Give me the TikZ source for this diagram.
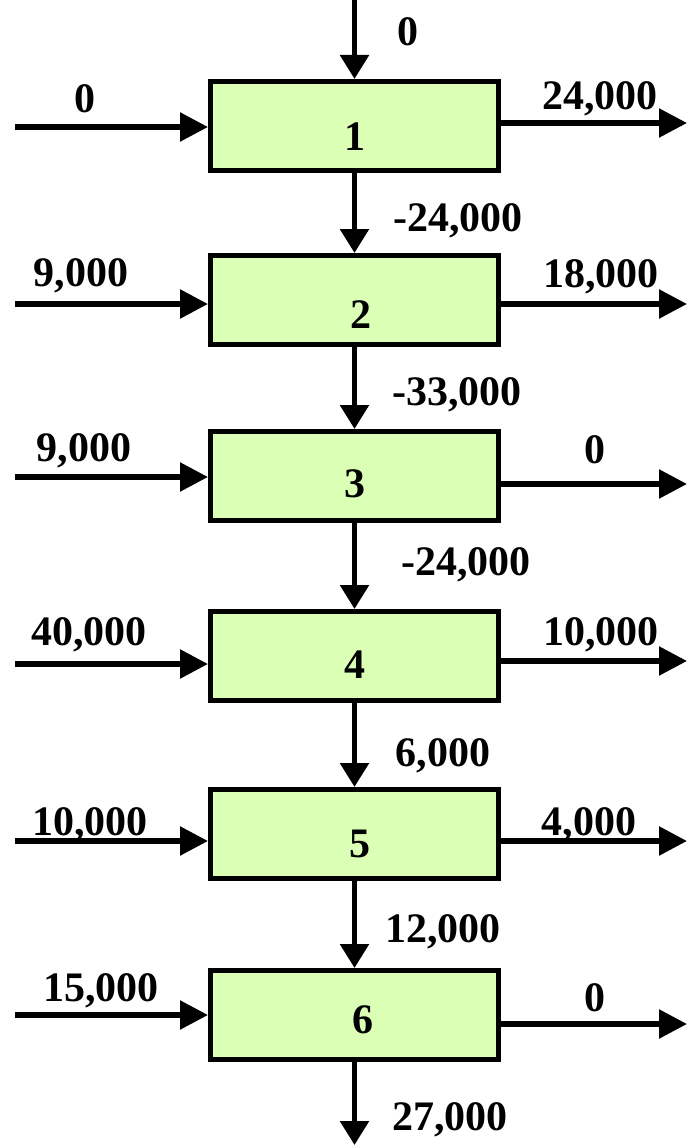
\documentclass[tikz,border=0pt]{standalone}
\usepackage{fontspec}
\setmainfont{Liberation Serif}
\usetikzlibrary{arrows.meta}
\definecolor{boxgreen}{RGB}{218,255,181}
\tikzset{
  blk/.style={draw=black, fill=boxgreen, line width=5pt, minimum width=288pt, minimum height=89pt, inner sep=0pt},
  hflow/.style={line width=5.5pt, -{Triangle[length=28pt,width=28pt]}},
  vflow/.style={line width=5.5pt, -{Triangle[length=24pt,width=28pt]}},
  lbl/.style={font=\fontsize{42}{48}\selectfont\bfseries, inner sep=0pt, anchor=base}
}
\begin{document}
\begin{tikzpicture}[x=1pt,y=-1pt]
\useasboundingbox (0,0) rectangle (687,1145);
% boxes
\node[blk] (b1) at (354.5,126) {};
\node[blk] (b2) at (354.5,300) {};
\node[blk] (b3) at (354.5,476) {};
\node[blk] (b4) at (354.5,656) {};
\node[blk] (b5) at (354.5,834) {};
\node[blk] (b6) at (354.5,1015) {};
% box numbers
\node[lbl] (n1) at (355,150) {1};
\node[lbl] (n2) at (361,328) {2};
\node[lbl] (n3) at (355,497) {3};
\node[lbl] (n4) at (355,678) {4};
\node[lbl] (n5) at (360,857) {5};
\node[lbl] (n6) at (363,1033) {6};
% free ends
\coordinate (top) at (354.5,0);
\coordinate (bot) at (354.5,1145);
\foreach \i/\yl/\yr in {1/127/123,2/304/304,3/477/484,4/664/661,5/841/841,6/1015/1024}{
  \coordinate (l\i) at (15,\yl);
  \coordinate (r\i) at (687,\yr);
}
% connectors
\draw[vflow] (top) -- (b1.north);
\draw[vflow] (b1.south) -- (b2.north);
\draw[vflow] (b2.south) -- (b3.north);
\draw[vflow] (b3.south) -- (b4.north);
\draw[vflow] (b4.south) -- (b5.north);
\draw[vflow] (b5.south) -- (b6.north);
\draw[vflow] (b6.south) -- (bot);
\foreach \i in {1,...,6}{
  \draw[hflow] (l\i) -- (b\i.west |- l\i);
  \draw[hflow] (b\i.east |- r\i) -- (r\i);
}
% labels
\node[lbl] (t0) at (408,46) {0};
\node[lbl] (in1) at (85,113) {0};
\node[lbl] (out1) at (600,110) {24,000};
\node[lbl] (v12) at (458,231) {-24,000};
\node[lbl] (in2) at (81,286) {9,000};
\node[lbl] (out2) at (601,287) {18,000};
\node[lbl] (v23) at (457,405) {-33,000};
\node[lbl] (in3) at (84,461) {9,000};
\node[lbl] (out3) at (595,463) {0};
\node[lbl] (v34) at (466,575) {-24,000};
\node[lbl] (in4) at (89,645) {40,000};
\node[lbl] (out4) at (601,645) {10,000};
\node[lbl] (v45) at (443,766) {6,000};
\node[lbl] (in5) at (90,835) {10,000};
\node[lbl] (out5) at (589,835) {4,000};
\node[lbl] (v56) at (443,942) {12,000};
\node[lbl] (in6) at (101,1001) {15,000};
\node[lbl] (out6) at (595,1011) {0};
\node[lbl] (v6b) at (450,1130) {27,000};
\end{tikzpicture}
\end{document}
